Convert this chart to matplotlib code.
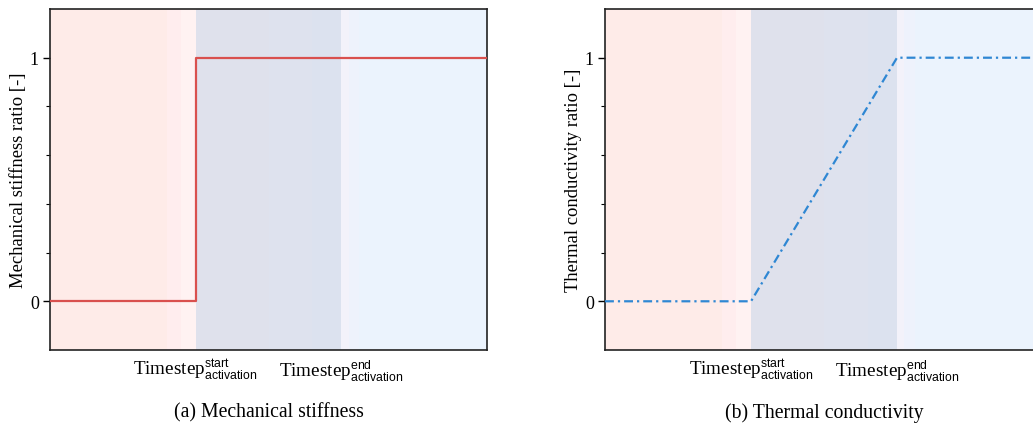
import matplotlib
matplotlib.use("Agg")
import matplotlib.pyplot as plt
from matplotlib.ticker import FixedLocator
try:
    import matplotlib._mathtext as _mt
    _mt.SHRINK_FACTOR = 0.64
except Exception:
    pass

plt.rcParams['font.family'] = ['Liberation Serif', 'DejaVu Serif']
plt.rcParams['mathtext.fontset'] = 'custom'
plt.rcParams['mathtext.rm'] = 'Liberation Sans'
plt.rcParams['mathtext.it'] = 'Liberation Sans:italic'

# Data
mech_x = [0, 1, 1, 3]
mech_y = [0, 0, 1, 1]
therm_x = [0, 1, 2, 3]
therm_y = [0, 0, 1, 1]
xtick_pos = [1, 2]
xtick_labels = [r'Timestep$^{\mathrm{start}}_{\mathrm{activation}}$',
                r'Timestep$^{\mathrm{end}}_{\mathrm{activation}}$']
ytick_pos = [0, 1]
ytick_labels = ['0', '1']
yminor_pos = [0.2, 0.4, 0.6, 0.8]
ylabels = ['Mechanical stiffness ratio [-]', 'Thermal conductivity ratio [-]']
captions = ['(a) Mechanical stiffness', '(b) Thermal conductivity']

# background bands (x0, x1, colour)
bands = [(0, 0.8, '#FEEBE8'), (0.8, 0.9, '#FFEDEE'), (0.9, 1.0, '#FFF2F2'),
         (1.0, 1.5, '#DFE1EC'), (1.5, 1.8, '#DEE2EE'), (1.8, 2.0, '#DCE2EF'),
         (2.0, 2.05, '#F3F2FA'), (2.05, 2.12, '#EEF2FC'), (2.12, 3.0, '#EBF3FD')]

fig = plt.figure(figsize=(10.33, 4.27), dpi=100)
W, H = 1033, 427
ax1 = fig.add_axes([50 / W, (H - 351) / H, 437 / W, 341 / H])
ax2 = fig.add_axes([605 / W, (H - 351) / H, 438 / W, 341 / H])

for ax, ylab, cap in zip([ax1, ax2], ylabels, captions):
    for x0, x1, c in bands:
        ax.axvspan(x0, x1, color=c, lw=0, zorder=0)
    ax.set_xlim(0, 3)
    ax.set_ylim(-0.2, 1.2)
    ax.set_xticks(xtick_pos)
    ax.set_xticklabels(xtick_labels, fontsize=13.8)
    ax.tick_params(axis='x', length=0, pad=5)
    ax.set_yticks(ytick_pos)
    ax.set_yticklabels(ytick_labels, fontsize=13)
    ax.yaxis.set_minor_locator(FixedLocator(yminor_pos))
    ax.tick_params(axis='y', which='major', length=5, width=1, direction='out', pad=3)
    ax.tick_params(axis='y', which='minor', length=3, width=0.8, direction='out')
    ax.set_ylabel(ylab, fontsize=13.4, labelpad=2)
    for s in ax.spines.values():
        s.set_linewidth(1.2)
        s.set_color('#222222')
    ax.text(0.5, -0.152, cap, transform=ax.transAxes, ha='center', va='top', fontsize=14.2)

ax1.plot(mech_x, mech_y, color='#D9504E', lw=1.6, zorder=3)
ax2.plot(therm_x, therm_y, color='#2F87D3', lw=1.6, linestyle=(0, (4, 1.8, 1, 1.8)), zorder=3)

fig.savefig('out.png', dpi=100)
